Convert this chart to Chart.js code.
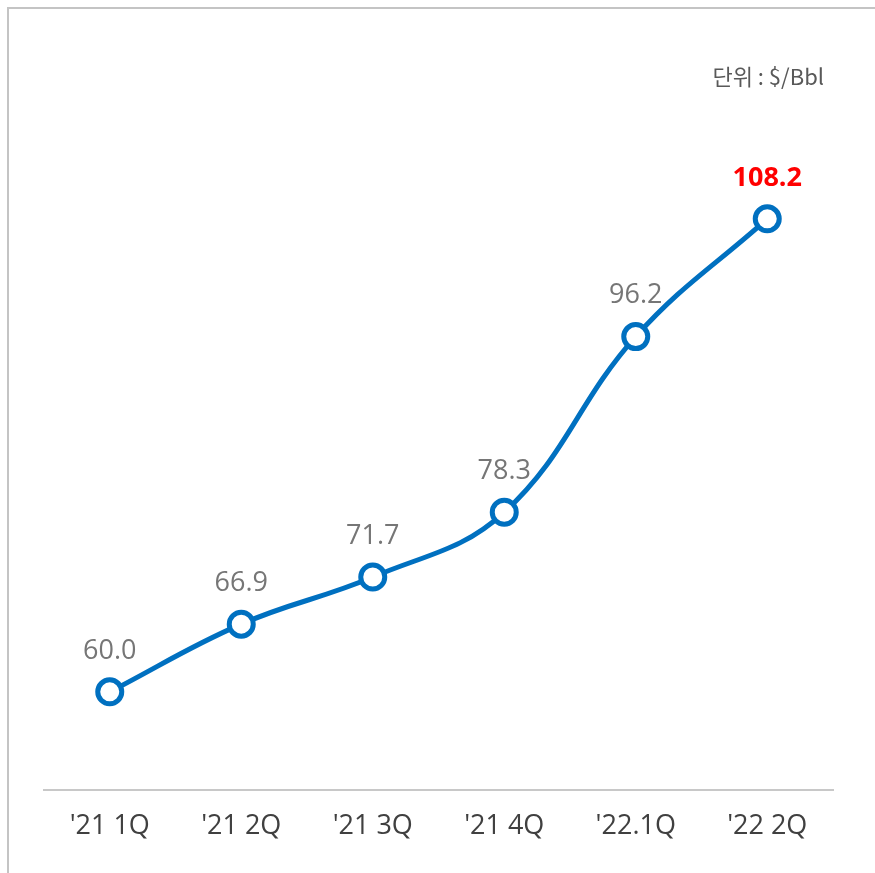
<!DOCTYPE html>
<html>
<head>
<meta charset="utf-8">
<script src="https://cdn.jsdelivr.net/npm/chart.js@4"></script>
<style>
  html, body { margin: 0; padding: 0; background: #fff; }
  #wrap { position: relative; width: 875px; height: 873px; }
  #frame {
    position: absolute; left: 7px; top: 7px; right: 0; bottom: 0;
    border-top: 2px solid #c4c4c4; border-left: 2px solid #c4c4c4;
  }
  canvas { position: absolute; left: 0; top: 0; }
</style>
</head>
<body>
<div id="wrap">
  <div id="frame"></div>
  <canvas id="oilChart" width="875" height="873"></canvas>
</div>
<script>
const quarters = ["'21 1Q", "'21 2Q", "'21 3Q", "'21 4Q", "'22.1Q", "'22 2Q"];
const prices = [60.0, 66.9, 71.7, 78.3, 96.2, 108.2];
const unitText = '단위 : $/Bbl';

const FONT = "'Open Sans', 'Noto Sans CJK KR', sans-serif";

// value labels above each point, last one highlighted
const valueLabels = {
    id: 'valueLabels',
    afterDatasetsDraw(chart) {
        const ctx = chart.ctx;
        const meta = chart.getDatasetMeta(0);
        ctx.save();
        ctx.textAlign = 'center';
        ctx.textBaseline = 'middle';
        meta.data.forEach((pt, i) => {
            const last = i === prices.length - 1;
            ctx.fillStyle = last ? '#ff0000' : '#767676';
            ctx.font = (last ? 'bold ' : '') + '27px ' + FONT;
            ctx.fillText(prices[i].toFixed(1), pt.x, pt.y - 41);
        });
        // unit note top right
        ctx.textAlign = 'right';
        ctx.fillStyle = '#595959';
        ctx.font = "22px 'Noto Sans CJK KR', sans-serif";
        ctx.fillText(unitText, 824, 77);
        ctx.restore();
    }
};

const ctx = document.getElementById('oilChart').getContext('2d');
const oilChart = new Chart(ctx, {
    type: 'line',
    data: {
        labels: quarters,
        datasets: [{
            data: prices,
            borderColor: '#0070c0',
            borderWidth: 5,
            tension: 0.4,
            pointRadius: 12,
            pointHoverRadius: 12,
            pointBackgroundColor: '#ffffff',
            pointBorderColor: '#0070c0',
            pointBorderWidth: 5
        }]
    },
    options: {
        responsive: false,
        animation: false,
        layout: {
            padding: { left: 44, right: 42, top: 54, bottom: 0 }
        },
        plugins: {
            legend: { display: false },
            tooltip: { enabled: false }
        },
        scales: {
            x: {
                offset: true,
                grid: { display: false },
                border: { display: true, color: '#c8c8c8', width: 2 },
                ticks: {
                    color: '#404040',
                    padding: 12,
                    font: { family: FONT, size: 27 }
                },
                afterFit: s => { s.height = 83; }
            },
            y: {
                display: false,
                min: 50,
                max: 125
            }
        }
    },
    plugins: [valueLabels]
});
</script>
</body>
</html>
